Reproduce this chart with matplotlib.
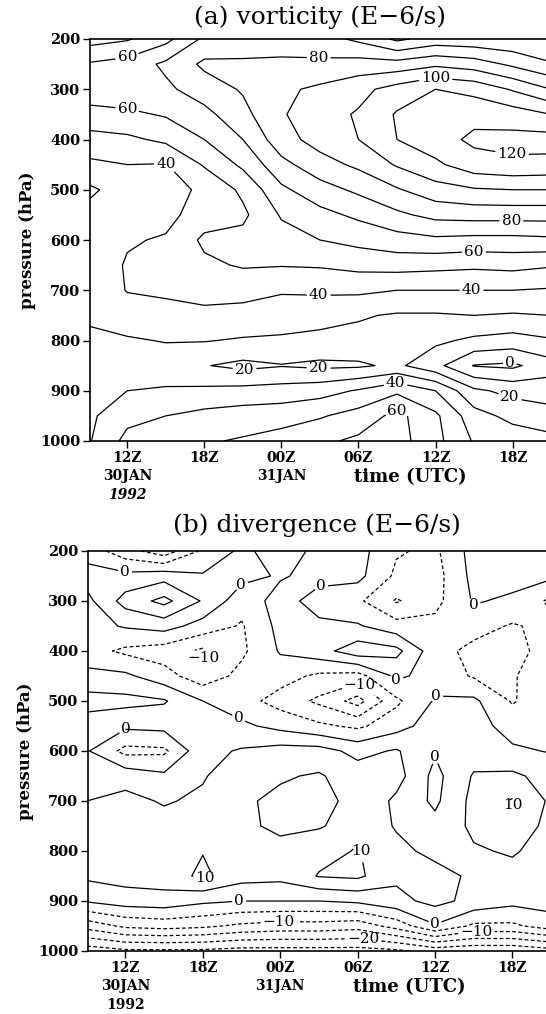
import numpy as np
import matplotlib
matplotlib.use("Agg")
import matplotlib.pyplot as plt
import matplotlib.transforms as mtransforms

# hours after 00Z 30 JAN 1992
times = [9, 12, 15, 18, 21, 24, 27, 30, 33, 36, 39, 42, 45]
pressures = [200, 250, 300, 350, 400, 450, 500, 550, 600,
             650, 700, 750, 800, 850, 900, 950, 1000]

# vorticity (E-6/s), one row per pressure level, columns follow times
vort = [
    [46, 49, 57, 72, 73, 75, 74, 68, 58, 64, 63, 62, 60],
    [61, 64, 72, 82, 82, 82, 82, 84, 84, 88, 85, 78, 71],
    [65, 67, 68, 75, 81, 88, 92, 97, 104, 110, 107, 99, 90],
    [57, 58, 61, 67, 77, 89, 96, 101, 111, 114, 117, 115, 110],
    [46, 48, 52, 60, 70, 86, 94, 100, 110, 116, 122, 123, 124],
    [38, 40, 39.5, 51, 62, 77, 86, 92, 101, 108, 116, 118, 117],
    [28, 35, 36, 42, 52, 68, 76, 82, 89, 96, 99, 100, 100],
    [33, 37, 37, 45, 48, 61, 67, 72, 78, 83, 84, 84, 84],
    [33, 39, 41, 52, 53, 56, 60, 63, 66, 68, 67, 67, 68],
    [33, 41, 44, 48, 51, 50.5, 51, 53, 54, 53, 52, 53, 51],
    [32, 40.5, 42, 43, 43, 41, 41.5, 42, 40, 40, 40, 40, 39],
    [31.5, 35, 36, 38, 37, 35, 34, 31, 29, 29, 30, 29, 30],
    [28, 29, 30.5, 30.5, 29, 28.5, 27, 27, 25, 22, 18, 16, 19],
    [27, 26, 25, 20.5, 17.5, 19.5, 18, 18.5, 22, 13, -0.5, -2, 6],
    [27, 30, 31, 32, 33, 34, 36, 41, 48, 40, 22, 17, 15],
    [28, 37, 40, 43, 45, 46, 49, 54, 63, 52, 34, 27, 24],
    [29, 43, 47, 49, 51, 54, 58, 62, 64, 53, 39, 36, 33],
]

# divergence (E-6/s), same layout
div = [
    [-2, -8, -13, -4, 1, -2, 1, 2, -4.5, -6, 2, 2.5, 2.5],
    [2, 1.5, 3, 0.5, 1.5, -0.5, 1.5, 1.5, -6, -7, 1.5, 2, 1],
    [-1.5, 7, 11.5, 4.5, -3, 2, -2, -4, -10.5, -6.5, 0.5, -1, -6],
    [-2, 0.5, 2, -2, -5.5, 1.5, 1, 0.5, -3, -3.5, -3, -5.5, -3.5],
    [-3, -6, -7.5, -11, -6, 0.5, 3, 8, 6.5, -3, -6.5, -7, -2.5],
    [1.5, 1, -3, -8, -3.5, -3, -6, -7, 1, -2, -5.5, -5.5, -1.5],
    [7, 6.5, 5.5, 0, -3, -7, -11, -17, -6, 0.5, 1, -5.5, -1],
    [2.5, 1, 1.5, 3, 1, -1.5, -4, -6, -2, 2.5, 2, -2, -0.5],
    [0.5, -6.5, -6, 3.5, 5.5, 7, 7, 3.5, 5.5, 0.5, 2.5, 0.8, -0.3],
    [3, 3, 1, 4.5, 8.5, 9.5, 10.5, 7.5, 7, -1.5, 5.5, 6, 3],
    [5, 6.5, 4.5, 6, 9.3, 11, 11, 9, 4, -1, 6.5, 10.5, 4],
    [6.5, 7.5, 7, 7, 9, 11, 10.2, 9, 4.5, 1.5, 6, 7, 4],
    [7, 7.5, 7.5, 9.8, 7.5, 8.5, 8.5, 10.3, 6.5, 3.5, 4.5, 5.5, 3],
    [6, 7, 7.5, 11, 7, 6.5, 10.3, 11, 6, 7, 4, 3.5, 2.5],
    [0.5, 2.5, 3, 1, 0, 0, 0, 1, 3.5, 6.5, 3.5, 1.5, 2],
    [-13, -9, -8, -9, -11, -12, -12, -13, -8, -0.5, -6, -6, -2.5],
    [-28, -26, -26, -26, -27, -27, -27, -27, -26, -23, -24, -24, -22],
]

tick_times = [12, 18, 24, 30, 36, 42]
tick_names = ["12Z\n30JAN", "18Z", "00Z\n31JAN", "06Z", "12Z", "18Z"]

vort_levels = list(range(0, 140, 10))
vort_labelled = [0, 20, 40, 60, 80, 100, 120]
vort_label_spots = [(12.05, 241), (12.05, 333), (15.1, 444), (21.1, 850),
                    (26.9, 233), (36.0, 271), (41.9, 437), (41.9, 562),
                    (39.0, 633), (26.9, 710), (38.8, 698), (26.9, 852),
                    (32.9, 886), (32.9, 919), (41.8, 849), (41.8, 912)]

div_levels = list(range(-30, 20, 5))
div_labelled = [-20, -10, 0, 10]
div_label_spots = [(12.0, 238), (20.9, 265), (18.2, 418), (12.0, 545),
                   (20.9, 528), (18.2, 858), (20.8, 895), (23.9, 945),
                   (27.2, 278), (39.1, 318), (30.1, 468), (33.1, 466),
                   (36.1, 478), (36.1, 601), (42.0, 720), (30.1, 801),
                   (36.0, 948), (39.2, 961), (30.4, 981)]

plt.rcParams['font.family'] = ['DejaVu Serif']


def label_text(v):
    return f"{v:.0f}".replace("-", "\u2212")


def draw_panel(ax, values, levels, labelled, spots, year_style):
    T, P = np.meshgrid(times, pressures)
    Z = np.array(values)
    plain = [lv for lv in levels if lv not in labelled]

    def styles(lvs):
        return [(0, (3, 2)) if lv < 0 else 'solid' for lv in lvs]

    ax.contour(T, P, Z, levels=plain, colors='black', linewidths=0.9,
               linestyles=styles(plain))
    cs = ax.contour(T, P, Z, levels=labelled, colors='black', linewidths=0.9,
                    linestyles=styles(labelled))
    texts = ax.clabel(cs, manual=spots, inline=True, fmt=label_text,
                      fontsize=11, inline_spacing=2)
    # labels in the original are printed upright
    for t in texts:
        t.set_rotation(0)

    ax.set_xlim(9.1, 44.6)
    ax.set_ylim(1000, 200)
    ax.set_yticks(range(200, 1001, 100))
    ax.set_yticklabels([str(p) for p in range(200, 1001, 100)],
                       fontweight='bold', fontsize=10.5)
    ax.set_xticks(tick_times)
    ax.set_xticklabels(tick_names, fontweight='bold', fontsize=10,
                       linespacing=1.35)
    ax.tick_params(direction='out', length=5, width=1, pad=2)
    ax.spines['right'].set_visible(False)
    for side in ['left', 'bottom', 'top']:
        ax.spines[side].set_linewidth(1.2)
    ax.set_ylabel("pressure (hPa)", fontweight='bold', fontsize=12,
                  labelpad=3)

    trans = mtransforms.blended_transform_factory(ax.transData, ax.transAxes)
    ax.text(12, -0.134, "1992", transform=trans, ha='center', va='center',
            fontsize=10, fontweight='bold', style=year_style)
    ax.text(34.0, -0.09, "time (UTC)", transform=trans, ha='center',
            va='center', fontsize=13, fontweight='bold')


fig = plt.figure(figsize=(5.46, 10.14), dpi=100)
ax_a = fig.add_axes([90 / 546, 1 - 441 / 1014, 456 / 546, 402 / 1014])
ax_b = fig.add_axes([88 / 546, 1 - 951 / 1014, 458 / 546, 400 / 1014])

draw_panel(ax_a, vort, vort_levels, vort_labelled, vort_label_spots, 'italic')
draw_panel(ax_b, div, div_levels, div_labelled, div_label_spots, 'normal')

fig.text(320 / 546, 1 - 17 / 1014, "(a) vorticity (E\u22126/s)",
         ha='center', va='center', fontsize=18)
fig.text(317 / 546, 1 - 525 / 1014, "(b) divergence (E\u22126/s)",
         ha='center', va='center', fontsize=18)

fig.savefig("out.png", dpi=100)
